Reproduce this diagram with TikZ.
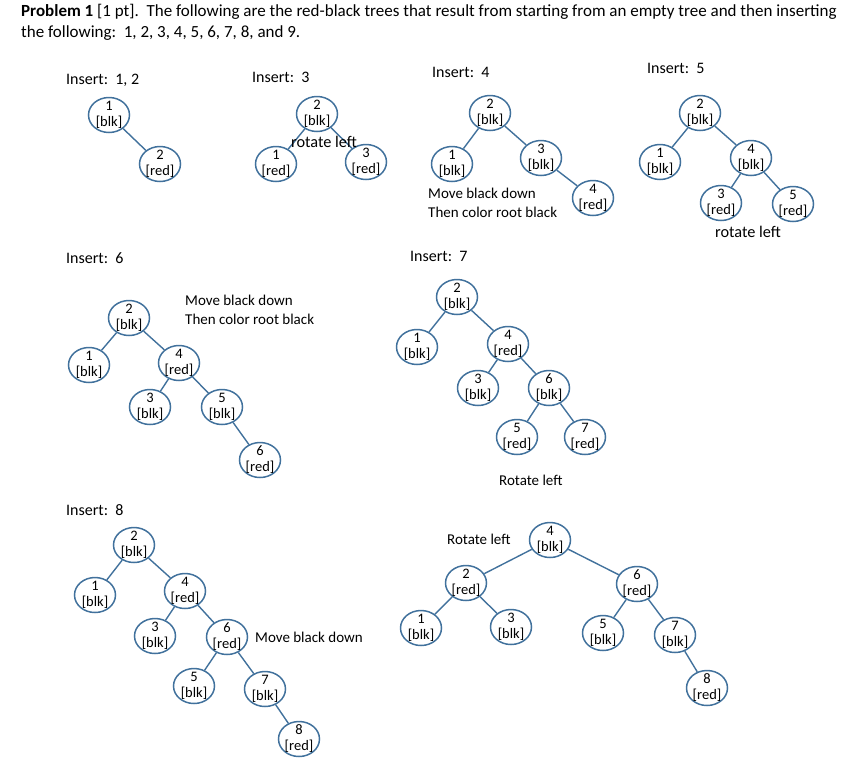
\documentclass[tikz,border=0pt]{standalone}
\usepackage{fontspec}
\setmainfont{Carlito}
\usetikzlibrary{shapes.geometric}
\definecolor{rbblue}{HTML}{41719C}

\begin{document}
\begin{tikzpicture}[x=1pt,y=-1pt,
  rb/.style={ellipse,draw=rbblue,line width=1.5pt,minimum width=41pt,minimum height=35pt,
    inner xsep=-1pt,inner ysep=-4pt,align=center,font=\fontsize{14.5}{16}\selectfont},
  lbl/.style={anchor=west,inner sep=0pt,align=left,font=\fontsize{15}{19}\selectfont},
  ins/.style={lbl,font=\fontsize{16}{19}\selectfont},
  rbedge/.style={draw=rbblue,line width=1.4pt}]
\useasboundingbox (0,0) rectangle (858,777);

\node [anchor=north west,inner sep=0pt,align=left,font=\fontsize{17}{21.5}\selectfont] (title) at (21,4)
  {\textbf{Problem 1} [1 pt].\ \ The following are the red-black trees that result from starting from an empty tree and then inserting\\
   the following:\ \ 1, 2, 3, 4, 5, 6, 7, 8, and 9.};

\node [ins] (insa) at (66,80) {Insert:\ \ 1, 2};
\node [ins] (insb) at (252,77) {Insert:\ \ 3};
\node [ins] (insc) at (432,72) {Insert:\ \ 4};
\node [ins] (insd) at (647,68) {Insert:\ \ 5};
\node [ins] (inse) at (66,258) {Insert:\ \ 6};
\node [ins] (insf) at (410,256) {Insert:\ \ 7};
\node [ins] (insg) at (66,510) {Insert:\ \ 8};

\node [rb] (a1) at (109,115) {1\\ {[blk]}};
\node [rb] (a2) at (160,164) {2\\ {[red]}};

\node [rb] (b2) at (317,114) {2\\ {[blk]}};
\node [rb] (b1) at (276,164) {1\\ {[red]}};
\node [rb] (b3) at (366,162) {3\\ {[red]}};

\node [rb] (c2) at (490,113) {2\\ {[blk]}};
\node [rb] (c1) at (452,164) {1\\ {[blk]}};
\node [rb] (c3) at (541,158) {3\\ {[blk]}};
\node [rb] (c4) at (593,198) {4\\ {[red]}};

\node [rb] (d2) at (700,113) {2\\ {[blk]}};
\node [rb] (d1) at (660,162) {1\\ {[blk]}};
\node [rb] (d4) at (751,158) {4\\ {[blk]}};
\node [rb] (d3) at (721,203) {3\\ {[red]}};
\node [rb] (d5) at (793,204) {5\\ {[red]}};

\node [rb] (e2) at (129,318) {2\\ {[blk]}};
\node [rb] (e1) at (89,365) {1\\ {[blk]}};
\node [rb] (e4) at (179,363) {4\\ {[red]}};
\node [rb] (e3) at (150,407) {3\\ {[blk]}};
\node [rb] (e5) at (222,407) {5\\ {[blk]}};
\node [rb] (e6) at (260,460) {6\\ {[red]}};

\node [rb] (f2) at (457,297) {2\\ {[blk]}};
\node [rb] (f1) at (417,347) {1\\ {[blk]}};
\node [rb] (f4) at (508,344) {4\\ {[red]}};
\node [rb] (f3) at (478,388) {3\\ {[blk]}};
\node [rb] (f6) at (549,388) {6\\ {[blk]}};
\node [rb] (f5) at (517,437) {5\\ {[red]}};
\node [rb] (f7) at (585,437) {7\\ {[red]}};

\node [rb] (g2) at (134,545) {2\\ {[blk]}};
\node [rb] (g1) at (95,595) {1\\ {[blk]}};
\node [rb] (g4) at (185,591) {4\\ {[red]}};
\node [rb] (g3) at (155,636) {3\\ {[blk]}};
\node [rb] (g6) at (227,637) {6\\ {[red]}};
\node [rb] (g5) at (194,686) {5\\ {[blk]}};
\node [rb] (g7) at (265,689) {7\\ {[blk]}};
\node [rb] (g8) at (299,739) {8\\ {[red]}};

\node [rb] (h4) at (550,540) {4\\ {[blk]}};
\node [rb] (h2) at (466,583) {2\\ {[red]}};
\node [rb] (h1) at (421,628) {1\\ {[blk]}};
\node [rb] (h3) at (511,627) {3\\ {[blk]}};
\node [rb] (h6) at (637,584) {6\\ {[red]}};
\node [rb] (h5) at (603,633) {5\\ {[blk]}};
\node [rb] (h7) at (675,635) {7\\ {[blk]}};
\node [rb] (h8) at (707,688) {8\\ {[red]}};

\draw [rbedge] (a1) -- (a2);
\draw [rbedge] (b2) -- (b1);
\draw [rbedge] (b2) -- (b3);
\draw [rbedge] (c2) -- (c1);
\draw [rbedge] (c2) -- (c3);
\draw [rbedge] (c3) -- (c4);
\draw [rbedge] (d2) -- (d1);
\draw [rbedge] (d2) -- (d4);
\draw [rbedge] (d4) -- (d3);
\draw [rbedge] (d4) -- (d5);
\draw [rbedge] (e2) -- (e1);
\draw [rbedge] (e2) -- (e4);
\draw [rbedge] (e4) -- (e3);
\draw [rbedge] (e4) -- (e5);
\draw [rbedge] (e5) -- (e6);
\draw [rbedge] (f2) -- (f1);
\draw [rbedge] (f2) -- (f4);
\draw [rbedge] (f4) -- (f3);
\draw [rbedge] (f4) -- (f6);
\draw [rbedge] (f6) -- (f5);
\draw [rbedge] (f6) -- (f7);
\draw [rbedge] (g2) -- (g1);
\draw [rbedge] (g2) -- (g4);
\draw [rbedge] (g4) -- (g3);
\draw [rbedge] (g4) -- (g6);
\draw [rbedge] (g6) -- (g5);
\draw [rbedge] (g6) -- (g7);
\draw [rbedge] (g7) -- (g8);
\draw [rbedge] (h4) -- (h2);
\draw [rbedge] (h4) -- (h6);
\draw [rbedge] (h2) -- (h1);
\draw [rbedge] (h2) -- (h3);
\draw [rbedge] (h6) -- (h5);
\draw [rbedge] (h6) -- (h7);
\draw [rbedge] (h7) -- (h8);

\node [lbl,font=\fontsize{16.3}{19}\selectfont] (notb) at (291,142) {rotate left};
\node [lbl] (notc) at (428,202.5) {Move black down\\Then color root black};
\node [lbl,font=\fontsize{16.3}{19}\selectfont] (notd) at (715,232) {rotate left};
\node [lbl] (note) at (185,309.5) {Move black down\\Then color root black};
\node [lbl] (notf) at (499,480) {Rotate left};
\node [lbl] (notg) at (255,637) {Move black down};
\node [lbl] (noth) at (447,539) {Rotate left};

\end{tikzpicture}
\end{document}
